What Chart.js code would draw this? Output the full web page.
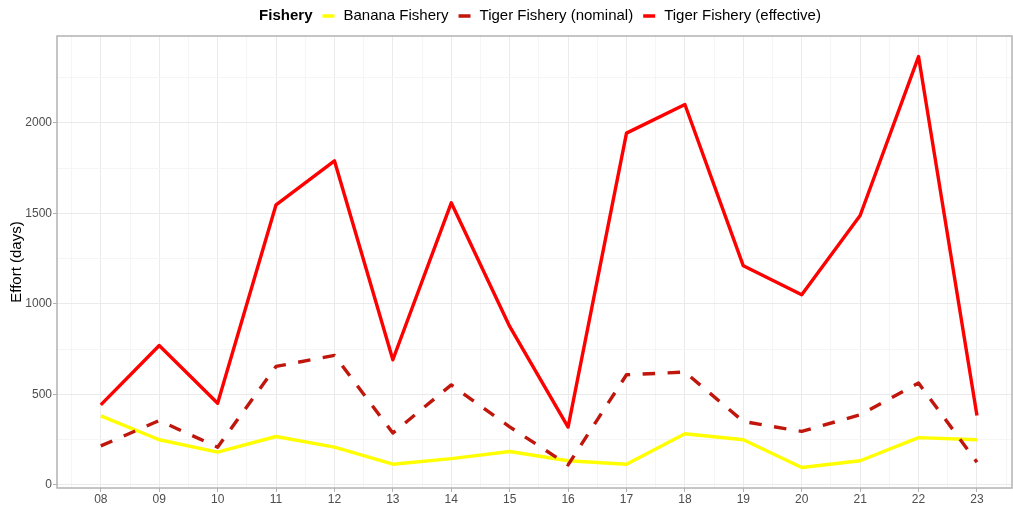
<!DOCTYPE html>
<html>
<head>
<meta charset="utf-8">
<script src="https://cdn.jsdelivr.net/npm/chart.js@4.4.1/dist/chart.umd.min.js"></script>
<style>
  html, body { margin: 0; padding: 0; background: #fff; }
  #wrap { width: 1013px; height: 506px; position: relative; }
</style>
</head>
<body>
<div id="wrap"><canvas id="grafico"></canvas></div>
<script>
const anos = [8, 9, 10, 11, 12, 13, 14, 15, 16, 17, 18, 19, 20, 21, 22, 23];
const banana = [381, 249, 181, 267, 208, 114, 145, 184, 133, 114, 282, 249, 96, 133, 261, 249];
const tigerNominal = [215, 355, 208, 654, 715, 286, 552, 320, 110, 608, 623, 350, 295, 387, 562, 125];
const tigerEffective = [442, 770, 451, 1547, 1790, 691, 1558, 875, 319, 1943, 2101, 1210, 1050, 1488, 2366, 383];
const yTicks = [0, 500, 1000, 1500, 2000];
const legendTitle = 'Fishery';
const seriesNames = ['Banana Fishery', 'Tiger Fishery (nominal)', 'Tiger Fishery (effective)'];

const fonte = '"Liberation Sans", Arial, sans-serif';
const toPoints = (vals) => anos.map((a, i) => ({ x: a, y: vals[i] }));

// legenda no topo, com o título em negrito na mesma linha
const legendaTopo = {
  id: 'legendaTopo',
  afterDraw(chart) {
    const ctx = chart.ctx;
    const ds = chart.data.datasets;
    ctx.save();
    ctx.textBaseline = 'middle';
    ctx.font = 'bold 15px ' + fonte;
    const wTitulo = ctx.measureText(legendTitle).width;
    ctx.font = '15px ' + fonte;
    const larguras = ds.map(d => ctx.measureText(d.label).width);
    const total = wTitulo + larguras.reduce((s, w) => s + 10 + 12 + 9 + w, 0);
    let x = 540 - total / 2;
    const y = 16;
    ctx.fillStyle = '#000';
    ctx.textAlign = 'left';
    ctx.font = 'bold 15px ' + fonte;
    ctx.fillText(legendTitle, x, y);
    x += wTitulo;
    ctx.font = '15px ' + fonte;
    ds.forEach((d, i) => {
      x += 10;
      ctx.strokeStyle = d.borderColor;
      ctx.lineWidth = 3.5;
      ctx.setLineDash([]);
      ctx.beginPath();
      ctx.moveTo(x, y);
      ctx.lineTo(x + 12, y);
      ctx.stroke();
      x += 12 + 9;
      ctx.fillStyle = '#000';
      ctx.fillText(d.label, x, y);
      x += larguras[i];
    });
    ctx.restore();
  }
};

// moldura cinza do painel
const moldura = {
  id: 'moldura',
  beforeDatasetsDraw(chart) {
    const { ctx, chartArea: a } = chart;
    ctx.save();
    ctx.strokeStyle = '#b3b3b3';
    ctx.lineWidth = 1.5;
    ctx.strokeRect(a.left, a.top, a.right - a.left, a.bottom - a.top);
    ctx.restore();
  }
};

const isMajorY = (v) => yTicks.includes(v);
const isMajorX = (v) => Number.isInteger(v);

const config = {
  type: 'line',
  data: {
    datasets: [
      {
        label: seriesNames[0],
        data: toPoints(banana),
        borderColor: '#ffff00',
        borderWidth: 3.4,
        order: 3
      },
      {
        label: seriesNames[1],
        data: toPoints(tigerNominal),
        borderColor: '#c0160c',
        borderWidth: 3.4,
        borderDash: [12.5, 12.5],
        order: 2
      },
      {
        label: seriesNames[2],
        data: toPoints(tigerEffective),
        borderColor: '#ff0000',
        borderWidth: 3.4,
        order: 1
      }
    ]
  },
  options: {
    responsive: true,
    maintainAspectRatio: false,
    animation: false,
    layout: { padding: { top: 36, right: 1, left: 0, bottom: 0 } },
    elements: {
      point: { radius: 0, hoverRadius: 0 },
      line: { tension: 0, borderJoinStyle: 'round', borderCapStyle: 'butt', fill: false }
    },
    plugins: {
      legend: { display: false },
      tooltip: { enabled: false }
    },
    scales: {
      x: {
        type: 'linear',
        min: 7.25,
        max: 23.6,
        afterBuildTicks: (s) => {
          const t = [];
          for (let v = 7.5; v <= 23.5; v += 0.5) t.push({ value: v });
          s.ticks = t;
        },
        afterFit: (s) => { s.height = 18; },
        ticks: {
          autoSkip: false,
          maxRotation: 0,
          padding: 0,
          color: '#4d4d4d',
          font: { family: fonte, size: 12 },
          callback: (v) => isMajorX(v) ? String(v).padStart(2, '0') : ''
        },
        grid: {
          lineWidth: 1,
          tickLength: 4,
          color: (c) => isMajorX(c.tick.value) ? '#ebebeb' : '#f5f5f5',
          tickColor: (c) => isMajorX(c.tick.value) ? '#b3b3b3' : 'rgba(0,0,0,0)'
        },
        border: { display: false }
      },
      y: {
        min: -17.5,
        max: 2479.5,
        afterBuildTicks: (s) => {
          const t = [];
          for (let v = 0; v <= 2250; v += 250) t.push({ value: v });
          s.ticks = t;
        },
        afterFit: (s) => { s.width = 57; },
        ticks: {
          autoSkip: false,
          padding: 1,
          color: '#4d4d4d',
          font: { family: fonte, size: 12 },
          callback: (v) => isMajorY(v) ? String(v) : ''
        },
        grid: {
          lineWidth: 1,
          tickLength: 4,
          color: (c) => isMajorY(c.tick.value) ? '#ebebeb' : '#f5f5f5',
          tickColor: (c) => isMajorY(c.tick.value) ? '#b3b3b3' : 'rgba(0,0,0,0)'
        },
        border: { display: false },
        title: {
          display: true,
          text: 'Effort (days)',
          color: '#000',
          font: { family: fonte, size: 15 },
          padding: { top: 8, bottom: 0 }
        }
      }
    }
  },
  plugins: [moldura, legendaTopo]
};

const ctx = document.getElementById('grafico').getContext('2d');
new Chart(ctx, config);
</script>
</body>
</html>
